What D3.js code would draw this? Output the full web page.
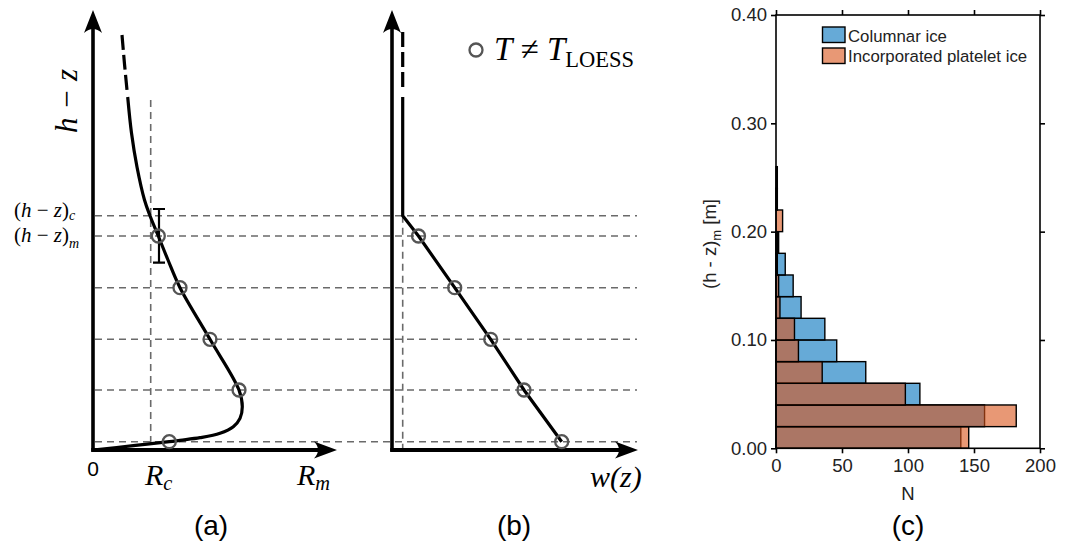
<!DOCTYPE html>
<html><head><meta charset="utf-8">
<script src="https://cdn.jsdelivr.net/npm/d3@7"></script>
<style>body{margin:0;background:#fff}svg{display:block}</style>
</head><body>
<svg id="chart" width="1070" height="546"></svg>
<script>
// ---------------- DATA ----------------
// Panel (c): histogram of (h - z)_m, bin starts [m]
const binStarts = [0.00,0.02,0.04,0.06,0.08,0.10,0.12,0.14,0.16,0.18,0.20,0.22,0.24];
const binWidth = 0.02;
const columnarIce = [140,158,109,68,46,37,19,13,7,2,0,1,1];
const plateletIce = [146,182,98,35,17,14,3,2,1,1,5,1,0];
const seriesNames = ["Columnar ice","Incorporated platelet ice"];
const yTicksC = [0,0.1,0.2,0.3,0.4];
const yTickLabelsC = ["0.00","0.10","0.20","0.30","0.40"];
const xTicksC = [0,50,100,150,200];

// Panels (a),(b): schematic, arbitrary units
const levels = [0.83, 6.0, 11.07, 16.23, 21.4];   // (h-z) of the marked points
const levelC = 23.43;                              // (h-z)_c
const RAtLevels = [7.63, 14.6, 11.7, 8.7, 6.53];   // R at the marked points
const Rc = 5.77;
const profileA = [[3.47,35.3],[3.85,31.7],[4.4,28.3],[5.15,25.0],[5.7,23.43],[6.53,21.4],[7.5,19.0],
  [8.7,16.23],[11.7,11.07],[14.6,6.0],[14.93,4.33],[14.7,3.17],[14.03,2.33],[12.7,1.67],[10.7,1.23],
  [8.7,0.97],[7.63,0.83],[4.03,0.43],[0,0]];
const profileADashed = [[2.9,41.5],[3.15,38.6],[3.4,36.0]];
const errorA = [6.6, 18.73, 24.1];                 // x, low, high
const wc = 1.07;
const wAtLevels = [16.97, 13.2, 9.87, 6.27, 2.65];
const profileB = [[wc,35.3],[wc,levelC],[2.65,21.4],[6.27,16.23],[9.87,11.07],[13.2,6.0],[16.97,0.83]];
const profileBDashed = [[wc,41.8],[wc,36.0]];

// ---------------- DRAW ----------------
const svg = d3.select("#chart");
const serif = "'Liberation Serif','Times New Roman',serif";
const sans = "'Liberation Sans',Arial,Helvetica,sans-serif";
const gray = "#6a6a6a";

const xA = d3.scaleLinear().domain([0, 24.4]).range([93, 337]);
const yA = d3.scaleLinear().domain([0, 44]).range([450, 10]);
const xB = d3.scaleLinear().domain([0, 24.6]).range([392, 638]);

// dashed level lines spanning (a) and (b)
svg.append("g").selectAll("line").data(levels.concat([levelC])).join("line")
  .attr("x1", xA(0.2)).attr("x2", xB(24.5))
  .attr("y1", d => yA(d)).attr("y2", d => yA(d))
  .attr("stroke", gray).attr("stroke-width", 1.6).attr("stroke-dasharray", "7,5");
// vertical dashed lines
svg.append("line").attr("x1", xA(Rc)).attr("x2", xA(Rc)).attr("y1", yA(35)).attr("y2", yA(0))
  .attr("stroke", gray).attr("stroke-width", 1.6).attr("stroke-dasharray", "7,5");
svg.append("line").attr("x1", xB(wc)).attr("x2", xB(wc)).attr("y1", yA(levelC)).attr("y2", yA(0))
  .attr("stroke", gray).attr("stroke-width", 1.6).attr("stroke-dasharray", "7,5");

// axes with stealth arrows
function axisArrows(xs, xEnd) {
  const x0 = xs(0), y0 = yA(0), yTop = yA(44), xR = xs(xEnd);
  svg.append("path").attr("d", `M${x0},${y0+1.5} L${x0},${yTop+15}`).attr("stroke","#000").attr("stroke-width",3.6).attr("fill","none");
  svg.append("path").attr("d", `M${x0-1.8},${y0} L${xR-15},${y0}`).attr("stroke","#000").attr("stroke-width",3.8).attr("fill","none");
  svg.append("path").attr("d", `M${x0},${yTop} L${x0-9},${yTop+23} Q${x0},${yTop+15} ${x0+9},${yTop+23} Z`).attr("fill","#000");
  svg.append("path").attr("d", `M${xR},${y0} L${xR-23},${y0-8.5} Q${xR-15},${y0} ${xR-23},${y0+8.5} Z`).attr("fill","#000");
}
axisArrows(xA, 24.4);
axisArrows(xB, 24.6);

const lineA = d3.line().x(d => xA(d[0])).y(d => yA(d[1])).curve(d3.curveCatmullRom.alpha(0.5));
const lineB = d3.line().x(d => xB(d[0])).y(d => yA(d[1]));
svg.append("path").attr("d", lineA(profileA)).attr("fill","none").attr("stroke","#000").attr("stroke-width",3.2);
svg.append("path").attr("d", lineA(profileADashed)).attr("fill","none").attr("stroke","#000").attr("stroke-width",3.2).attr("stroke-dasharray","15,5");
svg.append("path").attr("d", lineB(profileB)).attr("fill","none").attr("stroke","#000").attr("stroke-width",3.2);
svg.append("path").attr("d", lineB(profileBDashed)).attr("fill","none").attr("stroke","#000").attr("stroke-width",3.2).attr("stroke-dasharray","15,5");

// error bar
const [ex, elo, ehi] = errorA;
svg.append("path").attr("d", `M${xA(ex)},${yA(elo)}V${yA(ehi)}M${xA(ex)-6},${yA(elo)}H${xA(ex)+6}M${xA(ex)-6},${yA(ehi)}H${xA(ex)+6}`)
  .attr("stroke","#000").attr("stroke-width",2.2).attr("fill","none");

// circles
const circ = g => g.attr("r", 6.5).attr("fill","none").attr("stroke","#555").attr("stroke-width",2.3);
svg.append("g").selectAll("circle").data(levels).join("circle")
  .attr("cx", (d,i) => xA(RAtLevels[i])).attr("cy", d => yA(d)).call(circ);
svg.append("g").selectAll("circle").data(levels).join("circle")
  .attr("cx", (d,i) => xB(wAtLevels[i])).attr("cy", d => yA(d)).call(circ);

// texts panel (a)
svg.append("text").attr("transform","translate(77,101) rotate(-90)").attr("text-anchor","middle")
  .style("font-family",serif).style("font-style","italic").style("font-size","31px").text("h − z");
function hzLabel(y, sub, dy) {
  const t = svg.append("text").attr("x", 14).attr("y", y).style("font-family", serif).style("font-size","21px");
  t.append("tspan").text("(");
  t.append("tspan").style("font-style","italic").text("h");
  t.append("tspan").text(" − ");
  t.append("tspan").style("font-style","italic").text("z");
  t.append("tspan").text(")");
  t.append("tspan").attr("dy", dy).style("font-style","italic").style("font-size","14px").text(sub);
}
hzLabel(216.5, "c", 3);
hzLabel(242, "m", 6);
svg.append("text").attr("x", 93).attr("y", 476).attr("text-anchor","middle")
  .style("font-family",sans).style("font-size","21px").text("0");
function italicSub(x, y, main, sub, size) {
  const t = svg.append("text").attr("x", x).attr("y", y).style("font-family", serif).style("font-style","italic").style("font-size", size + "px");
  t.append("tspan").text(main);
  t.append("tspan").attr("dy", 5).style("font-size", (size*0.68) + "px").text(sub);
}
italicSub(145, 485, "R", "c", 30);
italicSub(297, 485, "R", "m", 30);
svg.append("text").attr("x", 590).attr("y", 487).style("font-family",serif).style("font-style","italic").style("font-size","30px").text("w(z)");

// legend panel (b)
svg.append("circle").attr("cx", 476).attr("cy", 50).call(circ);
{
  const t = svg.append("text").attr("x", 494).attr("y", 59.5).style("font-family", serif).style("font-size","33px");
  t.append("tspan").style("font-style","italic").text("T");
  t.append("tspan").text(" ≠ ");
  t.append("tspan").style("font-style","italic").text("T");
  t.append("tspan").attr("dy", 7).style("font-size","22.5px").text("LOESS");
}

// panel labels
[["(a)",211],["(b)",514],["(c)",908]].forEach(([s,x]) =>
  svg.append("text").attr("x", x).attr("y", 535).attr("text-anchor","middle")
    .style("font-family",sans).style("font-size","28px").text(s));

// ---------------- Panel (c) ----------------
const xC = d3.scaleLinear().domain([0, 200]).range([776, 1040]);
const yC = d3.scaleLinear().domain([0, 0.4]).range([448.3, 15]);
const colors = ["rgb(0,114,189)","rgb(217,83,25)"];
[columnarIce, plateletIce].forEach((vals, s) => {
  svg.append("g").selectAll("rect").data(binStarts.map((b,i) => ({b, v: vals[i]})).filter(d => d.v > 0)).join("rect")
    .attr("x", xC(0)).attr("y", d => yC(d.b + binWidth))
    .attr("width", d => xC(d.v) - xC(0)).attr("height", d => yC(d.b) - yC(d.b + binWidth))
    .attr("fill", colors[s]).attr("fill-opacity", 0.6).attr("stroke","#000").attr("stroke-width",1.4);
});
svg.append("rect").attr("x", xC(0)).attr("y", yC(0.4)).attr("width", xC(200)-xC(0)).attr("height", yC(0)-yC(0.4))
  .attr("fill","none").attr("stroke","#000").attr("stroke-width",1.6);
const styleAxis = g => { g.select(".domain").remove(); g.selectAll("line").attr("stroke","#000").attr("stroke-width",1.6);
  g.selectAll("text").style("font-family",sans).style("font-size","18.5px").attr("fill","#222"); };
svg.append("g").attr("transform",`translate(${xC(0)},0)`)
  .call(d3.axisLeft(yC).tickValues(yTicksC).tickSize(5).tickPadding(4).tickFormat((d,i) => yTickLabelsC[i])).call(styleAxis);
svg.append("g").attr("transform",`translate(0,${yC(0)})`)
  .call(d3.axisBottom(xC).tickValues(xTicksC).tickSize(5).tickPadding(6)).call(styleAxis);
svg.append("g").attr("transform",`translate(0,${yC(0.4)})`)
  .call(d3.axisTop(xC).tickValues(xTicksC).tickSize(5).tickFormat("")).call(styleAxis);
svg.append("g").attr("transform",`translate(${xC(200)},0)`)
  .call(d3.axisRight(yC).tickValues(yTicksC).tickSize(5).tickFormat("")).call(styleAxis);
svg.append("text").attr("x", xC(100)).attr("y", 500).attr("text-anchor","middle")
  .style("font-family",sans).style("font-size","18.5px").attr("fill","#222").text("N");
{
  const t = svg.append("text").attr("transform","translate(716,244) rotate(-90)").attr("text-anchor","middle")
    .style("font-family",sans).style("font-size","18.5px").attr("fill","#222");
  t.append("tspan").text("(h - z)");
  t.append("tspan").attr("dy",5).style("font-size","13px").text("m");
  t.append("tspan").attr("dy",-5).text(" [m]");
}
// legend (c)
seriesNames.forEach((name, i) => {
  svg.append("rect").attr("x", 822.5).attr("y", 27 + i*21).attr("width", 22.5).attr("height", 15.5)
    .attr("fill", colors[i]).attr("fill-opacity",0.6).attr("stroke","#000").attr("stroke-width",1.4);
  svg.append("text").attr("x", 848).attr("y", 41.5 + i*20.5).style("font-family",sans).style("font-size","16.8px")
    .attr("fill","#222").text(name);
});
</script>
</body></html>
